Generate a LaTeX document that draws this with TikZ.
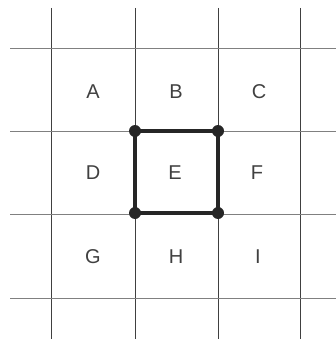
\documentclass[tikz,border=0pt]{standalone}
\usepackage{fontspec}
\setmainfont{Liberation Sans}
\usepackage{tikz}
\usetikzlibrary{positioning}

\begin{document}
\begin{tikzpicture}[
  x=1pt, y=-1pt,
  vline/.style={draw=black!75, line width=0.9pt},
  hline/.style={draw=black!50, line width=0.9pt},
  cell/.style={font=\fontsize{20}{20}\selectfont, text=black!75, inner sep=0pt},
  corner/.style={circle, fill=black!85, minimum size=12pt, inner sep=0pt},
  edge/.style={draw=black!85, line width=4pt}
]
  \useasboundingbox (0,0) rectangle (336,339);
  % grid
  \draw[vline] (51,8) -- (51,339);
  \draw[vline] (135,8) -- (135,339);
  \draw[vline] (218,8) -- (218,339);
  \draw[vline] (300,8) -- (300,339);
  \draw[hline] (10,48) -- (336,48);
  \draw[hline] (10,131) -- (336,131);
  \draw[hline] (10,214) -- (336,214);
  \draw[hline] (10,298) -- (336,298);
  % letters
  \node[cell] (A) at (93,92) {A};
  \node[cell] (B) at (176,92) {B};
  \node[cell] (C) at (259,92) {C};
  \node[cell] (D) at (93,173) {D};
  \node[cell] (E) at (175,173) {E};
  \node[cell] (F) at (257,173) {F};
  \node[cell] (G) at (93,257) {G};
  \node[cell] (H) at (176,257) {H};
  \node[cell] (I) at (258,257) {I};
  % square
  \node[corner] (p1) at (135,131) {};
  \node[corner] (p2) at (218,131) {};
  \node[corner] (p3) at (218,213) {};
  \node[corner] (p4) at (135,213) {};
  \draw[edge] (p1.center) -- (p2.center) -- (p3.center) -- (p4.center) -- cycle;
\end{tikzpicture}
\end{document}
